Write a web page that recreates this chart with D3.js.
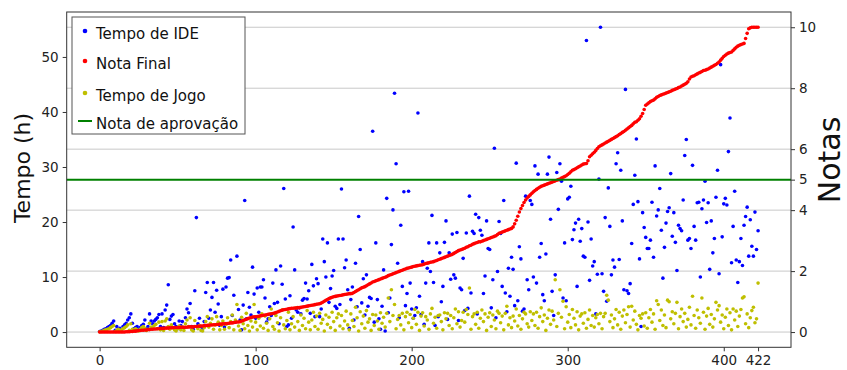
<!DOCTYPE html>
<html>
<head>
<meta charset="utf-8">
<script src="https://cdn.jsdelivr.net/npm/d3@7"></script>
<style>
  body { margin: 0; background: #fff; }
  svg { display: block; }
  text { font-family: "DejaVu Sans", sans-serif; }
</style>
</head>
<body>
<svg id="chart"></svg>
<script>
// Nota final dos alunos (ordenada), eixo direito
const notaFinal = [
  0,0,0,0,0,0,0,0,0,0,
  0,0,0,0,0,0,0,0.01,0.01,0.01,
  0.02,0.02,0.03,0.03,0.04,0.05,0.05,0.06,0.06,0.07,
  0.07,0.08,0.08,0.09,0.09,0.1,0.1,0.11,0.11,0.12,
  0.12,0.12,0.13,0.13,0.13,0.14,0.14,0.14,0.15,0.15,
  0.15,0.15,0.16,0.16,0.16,0.16,0.16,0.17,0.17,0.17,
  0.17,0.18,0.18,0.19,0.19,0.2,0.2,0.21,0.21,0.22,
  0.22,0.23,0.23,0.24,0.24,0.25,0.25,0.26,0.26,0.27,
  0.27,0.28,0.28,0.29,0.3,0.3,0.31,0.32,0.33,0.33,
  0.34,0.36,0.38,0.4,0.42,0.44,0.46,0.48,0.49,0.5,
  0.5,0.51,0.52,0.53,0.54,0.55,0.56,0.57,0.58,0.59,
  0.6,0.61,0.62,0.64,0.66,0.68,0.7,0.72,0.73,0.74,
  0.75,0.76,0.77,0.78,0.78,0.79,0.79,0.8,0.8,0.81,
  0.82,0.83,0.84,0.85,0.86,0.87,0.88,0.89,0.9,0.91,
  0.92,0.93,0.95,0.98,1.01,1.04,1.07,1.1,1.12,1.14,
  1.16,1.17,1.18,1.19,1.2,1.21,1.22,1.23,1.24,1.25,
  1.26,1.26,1.27,1.3,1.33,1.36,1.39,1.42,1.45,1.47,
  1.49,1.52,1.55,1.58,1.61,1.64,1.66,1.68,1.7,1.72,
  1.74,1.76,1.78,1.8,1.82,1.85,1.87,1.89,1.91,1.93,
  1.95,1.97,1.99,2.01,2.03,2.05,2.07,2.09,2.1,2.12,
  2.13,2.15,2.16,2.17,2.18,2.19,2.2,2.21,2.23,2.25,
  2.26,2.27,2.29,2.3,2.31,2.33,2.35,2.37,2.39,2.41,
  2.43,2.45,2.47,2.49,2.51,2.53,2.55,2.58,2.61,2.64,
  2.67,2.69,2.71,2.73,2.75,2.78,2.8,2.83,2.85,2.88,
  2.9,2.92,2.94,2.96,2.96,2.98,3.0,3.02,3.04,3.06,
  3.08,3.1,3.12,3.14,3.16,3.2,3.24,3.26,3.28,3.3,
  3.32,3.34,3.36,3.38,3.4,3.45,3.55,3.67,3.8,3.94,
  4.05,4.15,4.25,4.33,4.4,4.45,4.5,4.55,4.6,4.64,
  4.68,4.72,4.75,4.78,4.8,4.82,4.84,4.86,4.88,4.9,
  4.92,4.94,4.96,4.98,5.0,5.02,5.05,5.08,5.1,5.13,
  5.17,5.21,5.26,5.31,5.33,5.36,5.39,5.42,5.45,5.48,
  5.51,5.52,5.53,5.62,5.75,5.8,5.85,5.9,5.96,6.02,
  6.08,6.11,6.14,6.17,6.2,6.23,6.26,6.29,6.32,6.35,
  6.38,6.41,6.44,6.48,6.51,6.55,6.58,6.62,6.66,6.7,
  6.74,6.78,6.83,6.88,6.9,6.95,7.0,7.08,7.17,7.3,
  7.44,7.48,7.52,7.56,7.59,7.61,7.65,7.7,7.73,7.76,
  7.78,7.8,7.82,7.84,7.86,7.88,7.9,7.93,7.95,7.97,
  7.99,8.02,8.04,8.07,8.1,8.13,8.16,8.21,8.3,8.37,
  8.39,8.41,8.44,8.47,8.5,8.52,8.55,8.58,8.59,8.61,
  8.63,8.66,8.69,8.72,8.75,8.78,8.82,8.86,8.92,8.98,
  9.04,9.08,9.12,9.15,9.17,9.19,9.24,9.29,9.34,9.38,
  9.41,9.43,9.45,9.47,9.63,9.8,9.95,9.98,10,10,
  10,10,10
];

// Tempo de IDE (h), eixo esquerdo
const tempoIDE = [
  0.1,0.2,0.3,0.5,0.6,0.8,1.0,1.2,1.6,2.0,
  0.3,1.0,0.5,0.7,0.4,1.0,1.3,1.6,2.2,2.6,
  3.3,1.6,0.6,0.8,1.0,0.5,0.8,1.2,1.4,2.2,
  0.6,1.0,3.3,2.0,1.5,2.0,2.3,2.6,3.2,1.0,
  3.3,0.8,4.0,4.9,8.6,2.3,2.9,3.2,1.5,1.0,
  0.6,2.0,1.2,1.9,0.8,2.6,4.2,3.5,5.2,1.0,
  0.5,7.5,20.8,1.5,2.5,1.0,0.7,1.9,7.2,9.0,
  2.5,4.0,6.3,9.0,3.6,7.6,5.1,1.2,2.8,7.8,
  0.9,8.2,9.8,9.9,13.1,3.0,6.7,1.8,13.8,4.1,
  2.2,0.4,4.9,23.9,2.4,7.2,4.5,3.1,11.8,6.9,
  2.5,8.0,3.6,8.2,8.2,9.5,6.2,1.8,2.4,4.6,
  3.0,8.9,5.2,11.3,5.4,1.5,12.0,8.7,26.1,6.0,
  1.0,1.3,6.6,2.5,19.1,11.3,4.0,3.6,4.4,3.3,
  5.8,6.1,8.9,6.0,7.5,3.4,12.3,8.4,2.8,9.7,
  8.8,2.8,4.2,16.9,12.8,10.0,16.2,5.4,7.9,10.2,
  11.2,4.7,4.3,16.9,5.0,26.0,16.9,11.7,13.1,7.7,
  0.7,5.9,8.2,2.2,12.5,4.6,21.0,15.0,5.3,9.7,
  3.1,10.4,4.7,6.3,6.1,36.5,1.8,16.2,5.9,2.4,
  0.5,4.7,11.3,0.2,24.3,3.5,6.2,15.9,22.2,43.4,
  30.6,12.5,2.6,19.4,8.3,25.5,4.8,7.0,25.6,8.9,
  4.2,2.5,3.0,4.4,39.8,6.5,3.2,12.8,1.4,8.9,
  11.6,16.2,11.0,21.2,9.0,1.2,16.2,2.8,14.4,5.5,
  8.3,16.3,20.2,2.3,14.4,9.6,17.8,10.4,9.8,18.1,
  2.1,8.0,7.7,13.4,3.9,18.0,4.3,24.7,7.1,18.3,
  17.9,21.4,3.3,20.8,18.5,17.6,7.0,10.2,20.2,15.2,
  15.0,4.4,9.5,33.4,2.6,11.0,20.1,17.9,8.3,23.9,
  7.1,3.7,11.6,6.5,13.6,11.4,4.8,30.7,5.7,15.5,
  13.3,3.8,4.2,24.7,9.5,7.7,23.9,23.2,10.0,30.2,
  8.9,28.7,13.6,16.1,6.8,5.7,14.2,28.7,31.8,20.5,
  7.4,3.0,10.4,29.0,22.3,30.6,27.4,6.2,16.2,5.7,
  24.2,24.5,26.5,16.8,18.6,19.8,8.3,20.5,16.5,18.8,
  13.8,13.6,53.0,20.0,9.4,16.9,12.0,12.8,3.3,10.5,
  27.8,55.4,10.6,7.4,20.8,5.6,26.2,19.2,10.4,13.1,
  11.8,30.6,32.6,13.2,29.4,20.2,7.7,44.1,7.5,7.0,
  8.8,16.1,23.2,28.5,35.1,23.7,13.3,1.0,21.7,19.0,
  17.2,15.2,15.2,16.7,23.6,13.6,30.2,21.1,22.2,26.1,
  18.5,9.8,15.4,19.8,21.9,22.6,28.8,17.4,21.7,16.3,
  11.2,19.4,18.8,18.4,24.0,32.1,35.0,16.7,17.0,15.2,
  30.3,19.2,16.7,23.5,23.6,10.0,22.4,24.0,27.4,19.9,
  23.5,11.4,20.2,14.4,17.0,24.5,29.4,10.6,48.6,17.3,
  23.3,24.3,23.1,32.8,38.9,12.6,19.2,25.6,13.1,9.0,
  12.8,17.0,12.1,19.4,21.0,22.7,13.8,20.4,15.6,13.8,
  21.8,15.0,18.4
];

// Tempo de Jogo (h), eixo esquerdo
const tempoJogo = [
  0.05,0.1,0.2,0.3,0.4,0.5,0.6,0.8,1.0,1.2,
  0.1,0.3,0.5,0.2,0.4,0.6,0.8,1.0,1.3,0.3,
  1.5,0.5,0.3,0.6,0.4,0.2,0.5,0.8,1.0,0.7,
  0.3,0.5,1.6,0.9,0.8,1.2,1.4,0.6,1.8,0.4,
  1.9,0.3,2.0,2.4,1.0,0.5,1.3,0.8,0.4,0.2,
  0.6,1.1,0.4,0.9,0.3,1.5,2.2,1.0,2.6,0.4,
  0.2,2.1,1.0,0.6,1.2,0.3,0.2,0.8,1.9,2.8,
  0.9,1.6,2.4,0.5,1.3,2.8,1.8,0.4,1.2,2.0,
  0.5,1.4,2.6,0.8,1.9,3.1,0.4,2.2,5.0,1.1,
  0.3,2.7,1.5,0.6,3.4,1.2,0.2,2.0,0.9,5.0,
  1.8,0.4,2.5,1.1,3.3,0.7,2.9,1.6,0.3,2.4,
  4.2,1.0,0.5,3.0,1.7,0.2,2.6,4.0,1.3,0.6,
  2.1,3.6,0.4,1.5,2.8,0.9,4.4,1.9,0.3,3.1,
  1.2,2.5,0.6,3.9,1.8,0.4,2.2,3.6,1.0,2.9,
  0.5,3.4,1.6,2.3,0.2,3.1,1.4,2.7,0.8,3.6,
  1.9,0.3,2.6,3.3,1.1,3.0,0.6,2.0,3.8,1.3,
  0.4,3.3,2.1,1.0,4.5,2.6,0.2,3.7,1.5,2.9,
  0.7,3.9,1.8,2.4,0.3,3.2,1.2,3.1,2.0,0.5,
  3.5,1.6,2.7,0.9,3.4,6.2,1.9,7.7,3.0,5.0,
  0.6,2.3,3.0,1.3,3.4,0.4,2.8,3.6,1.7,3.2,
  0.8,2.5,4.1,1.4,3.6,0.3,2.9,3.5,1.1,2.8,
  2.2,0.5,3.3,4.3,1.6,2.7,0.7,3.0,3.1,1.9,
  0.4,3.5,2.4,3.4,1.2,3.0,0.6,2.6,4.2,1.5,
  3.7,0.9,2.1,3.6,1.8,4.1,3.2,8.0,0.5,2.8,
  3.3,1.4,3.6,0.7,2.5,4.0,1.9,3.3,0.3,2.7,
  3.5,1.0,3.1,2.2,0.6,3.8,3.4,1.7,2.9,0.4,
  3.4,4.7,1.3,2.6,0.8,2.9,2.0,4.2,1.1,3.0,
  0.5,2.4,3.6,3.3,1.5,0.9,3.7,2.1,3.3,1.2,
  3.6,0.7,2.8,4.4,1.9,3.1,0.3,2.5,4.0,1.4,
  3.8,2.2,9.5,1.0,3.4,7.7,2.7,5.6,0.6,4.6,
  1.8,3.2,0.8,4.1,2.5,1.3,3.7,0.4,2.9,3.3,
  1.6,3.5,0.7,2.3,4.0,1.2,3.0,0.9,2.6,3.2,
  1.5,3.4,0.6,2.8,3.4,6.7,5.8,1.9,3.1,0.8,
  2.4,4.1,1.3,3.6,0.5,2.9,4.0,1.7,3.2,4.6,
  0.9,4.7,2.2,3.8,1.4,0.4,3.0,2.5,3.3,1.1,
  3.5,0.7,2.6,4.1,1.8,3.3,0.5,5.7,5.0,2.1,
  4.0,1.2,3.1,0.8,5.8,5.5,2.4,3.7,1.5,3.4,
  5.4,0.6,2.8,4.2,1.9,3.4,0.9,2.3,4.5,1.3,
  6.5,3.0,0.7,4.0,2.6,1.6,6.2,3.6,0.5,2.9,
  4.3,1.4,3.2,0.9,2.4,5.4,4.0,4.8,1.8,3.1,
  0.6,2.7,4.2,1.2,3.5,0.4,4.2,2.2,3.8,1.0,
  2.9,4.1,6.2,6.4,1.5,3.3,0.8,2.6,3.9,4.5,
  1.7,2.4,8.9
];

const xTicks = [0, 100, 200, 300, 400, 422];
const tempoTicks = [0, 10, 20, 30, 40, 50];
const notaTicks = [0, 2, 4, 5, 6, 8, 10];
const notaGrid = [0, 2, 4, 6, 8, 10];
const notaAprovacao = 5;

const legendItems = [
    { color: "#0000ff", text: "Tempo de IDE", type: "dot" },
    { color: "#ff0000", text: "Nota Final", type: "dot" },
    { color: "#bfbf00", text: "Tempo de Jogo", type: "dot" },
    { color: "#008000", text: "Nota de aprovação", type: "line" },
];

const width = 847;
const height = 370;
const margin = { top: 12, right: 56, bottom: 22.7, left: 66.7 };
const w = width - margin.left - margin.right;
const h = height - margin.top - margin.bottom;

const n = notaFinal.length - 1;
const idx = d3.range(notaFinal.length);

// matplotlib-like 5% margins
const x = d3.scaleLinear().domain([-n * 0.05, n * 1.05]).range([0, w]);

const maxTempo = d3.max(tempoIDE.concat(tempoJogo));
const yTempo = d3.scaleLinear().domain([-maxTempo * 0.05, maxTempo * 1.05]).range([h, 0]);

const yNota = d3.scaleLinear().domain([-0.5, 10.5]).range([h, 0]);

const svg = d3.select("#chart").attr("width", width).attr("height", height);

const g = svg.append("g").attr("transform", `translate(${margin.left},${margin.top})`);

// grid (from the Notas axis)
g.append("g")
    .selectAll("line")
    .data(notaGrid)
    .enter()
    .append("line")
    .attr("x1", 0)
    .attr("x2", w)
    .attr("y1", d => yNota(d))
    .attr("y2", d => yNota(d))
    .attr("stroke", "#c8c8c8")
    .attr("stroke-width", 1);

// scatter: Tempo de IDE
g.append("g")
    .selectAll("circle")
    .data(idx)
    .enter()
    .append("circle")
    .attr("cx", i => x(i))
    .attr("cy", i => yTempo(tempoIDE[i]))
    .attr("r", 1.8)
    .attr("fill", "#0000ff");

// scatter: Tempo de Jogo
g.append("g")
    .selectAll("circle")
    .data(idx)
    .enter()
    .append("circle")
    .attr("cx", i => x(i))
    .attr("cy", i => yTempo(tempoJogo[i]))
    .attr("r", 1.8)
    .attr("fill", "#bfbf00");

// scatter: Nota Final (right axis)
g.append("g")
    .selectAll("circle")
    .data(idx)
    .enter()
    .append("circle")
    .attr("cx", i => x(i))
    .attr("cy", i => yNota(notaFinal[i]))
    .attr("r", 1.8)
    .attr("fill", "#ff0000");

// nota de aprovação
g.append("line")
    .attr("x1", 0)
    .attr("x2", w)
    .attr("y1", yNota(notaAprovacao))
    .attr("y2", yNota(notaAprovacao))
    .attr("stroke", "#008000")
    .attr("stroke-width", 2);

// frame
g.append("rect")
    .attr("width", w)
    .attr("height", h)
    .attr("fill", "none")
    .attr("stroke", "#333")
    .attr("stroke-width", 1);

// axes
const styleAxis = sel => {
    sel.select(".domain").remove();
    sel.selectAll(".tick line").attr("stroke", "#333");
    sel.selectAll(".tick text").attr("fill", "#222").style("font-size", "13.5px").style("font-family", "DejaVu Sans");
};

g.append("g")
    .attr("transform", `translate(0,${h})`)
    .call(d3.axisBottom(x).tickValues(xTicks).tickSize(4).tickPadding(4).tickFormat(d3.format("d")))
    .call(styleAxis);

g.append("g")
    .call(d3.axisLeft(yTempo).tickValues(tempoTicks).tickSize(4).tickPadding(4).tickFormat(d3.format("d")))
    .call(styleAxis);

g.append("g")
    .attr("transform", `translate(${w},0)`)
    .call(d3.axisRight(yNota).tickValues(notaTicks).tickSize(4).tickPadding(4).tickFormat(d3.format("d")))
    .call(styleAxis);

// axis titles
svg.append("text")
    .attr("transform", `translate(30,168) rotate(-90)`)
    .attr("text-anchor", "middle")
    .style("font-size", "22px")
    .attr("fill", "#111")
    .text("Tempo (h)");

svg.append("text")
    .attr("transform", `translate(840,160) rotate(-90)`)
    .attr("text-anchor", "middle")
    .style("font-size", "30px")
    .attr("fill", "#111")
    .text("Notas");

// legend
const legend = svg.append("g").attr("transform", "translate(72,17)");

legend.append("rect")
    .attr("width", 173)
    .attr("height", 117)
    .attr("fill", "#fff")
    .attr("stroke", "#555")
    .attr("stroke-width", 1);

const legendGroups = legend
    .selectAll("g")
    .data(legendItems)
    .enter()
    .append("g")
    .attr("transform", (d, i) => `translate(0, ${[17, 47, 79, 107][i]})`);

legendGroups
    .filter(d => d.type === "dot")
    .append("circle")
    .attr("cx", 13)
    .attr("cy", -3)
    .attr("r", 2.3)
    .attr("fill", d => d.color);

legendGroups
    .filter(d => d.type === "line")
    .append("line")
    .attr("x1", 6)
    .attr("x2", 20)
    .attr("y1", -3)
    .attr("y2", -3)
    .attr("stroke", d => d.color)
    .attr("stroke-width", 2);

legendGroups
    .append("text")
    .attr("x", 24)
    .attr("y", 0)
    .attr("dy", "0.35em")
    .text(d => d.text)
    .style("font-size", "15px")
    .attr("fill", "#111");
</script>
</body>
</html>
